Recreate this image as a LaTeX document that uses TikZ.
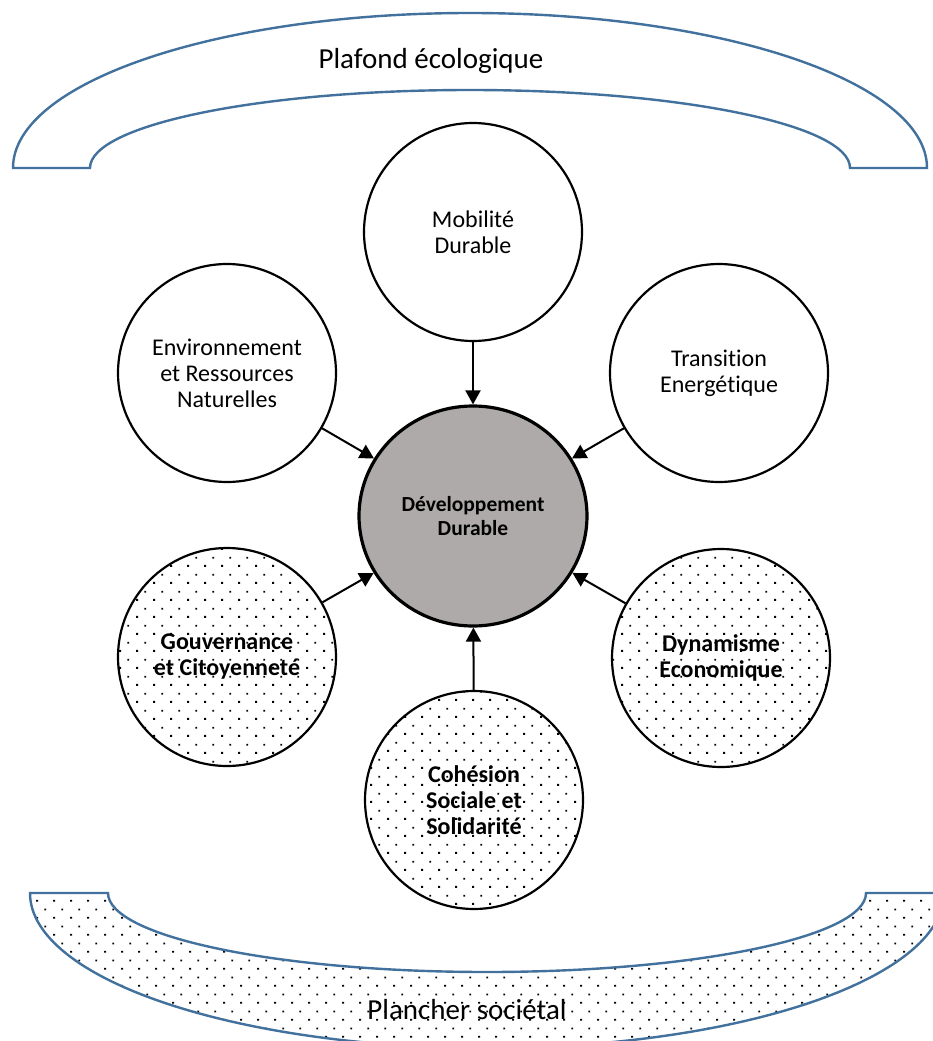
\documentclass[tikz,border=0pt]{standalone}
\usepackage{fontspec}
\setmainfont{Carlito}[Ligatures=NoCommon]
\usetikzlibrary{arrows.meta,patterns,shapes.geometric}
\definecolor{arcblue}{RGB}{65,113,156}
\definecolor{coregray}{RGB}{174,170,170}
\pgfdeclarepatternformonly{sparsedots}{\pgfqpoint{0pt}{0pt}}{\pgfqpoint{16.7pt}{16.7pt}}{\pgfqpoint{16.7pt}{16.7pt}}{%
  \pgfpathrectangle{\pgfqpoint{3.3pt}{3.3pt}}{\pgfqpoint{1.8pt}{1.8pt}}%
  \pgfpathrectangle{\pgfqpoint{11.65pt}{11.65pt}}{\pgfqpoint{1.8pt}{1.8pt}}%
  \pgfusepath{fill}}
\begin{document}
\begin{tikzpicture}[x=1pt,y=-1pt,
  band/.style={draw=arcblue, line width=2.4pt, line join=miter},
  topicbase/.style={circle, draw=black, line width=2.2pt, minimum size=218pt, inner sep=0pt, align=center},
  topic/.style={topicbase, fill=white, font=\fontsize{24}{26}\selectfont},
  dtopic/.style={topicbase, preaction={fill=white}, pattern=sparsedots, font=\bfseries\fontsize{24}{26}\selectfont},
  core/.style={ellipse, draw=black, line width=3.2pt, fill=coregray, minimum width=228pt, minimum height=220pt, inner sep=0pt, align=center, font=\bfseries\fontsize{21.5}{24}\selectfont},
  link/.style={line width=2pt, -{Triangle[length=14pt,width=15pt]}},
  bandlabel/.style={anchor=base, font=\fontsize{29}{32}\selectfont}
]
\fill[white] (0,0) rectangle (933,1041);
\useasboundingbox (0,0) rectangle (933,1041);

% ecological ceiling
\draw[band, fill=white] (13,168) arc[start angle=180, end angle=360, x radius=457, y radius=155]
  -- (850,168) arc[start angle=0, end angle=-180, x radius=380, y radius=78] -- cycle;
\node[bandlabel] (ceil) at (431,68) {Plafond écologique};

% social floor
\draw[band, preaction={fill=white}, pattern=sparsedots] (30,893) arc[start angle=180, end angle=0, x radius=457, y radius=155]
  -- (866,893) arc[start angle=0, end angle=180, x radius=379, y radius=79] -- cycle;
\node[bandlabel] (floor) at (467,1019) {Plancher sociétal};

% nodes
\node[core] (dd) at (473,516) {Développement\\Durable};
\node[topic] (mob) at (473,232) {Mobilité\\Durable};
\node[topic] (env) at (227,373) {Environnement\\et Ressources\\Naturelles};
\node[topic] (tra) at (719,373) {Transition\\Energétique};
\node[dtopic] (gov) at (227,657) {Gouvernance\\et Citoyenneté};
\node[dtopic] (dyn) at (721,658) {Dynamisme\\Economique};
\node[dtopic] (coh) at (474,800) {Cohésion\\Sociale et\\Solidarité};

% connectors
\draw[link] (mob) -- (dd);
\draw[link] (env) -- (dd);
\draw[link] (tra) -- (dd);
\draw[link] (gov) -- (dd);
\draw[link] (dyn) -- (dd);
\draw[link] (coh) -- (dd);
\end{tikzpicture}
\end{document}
